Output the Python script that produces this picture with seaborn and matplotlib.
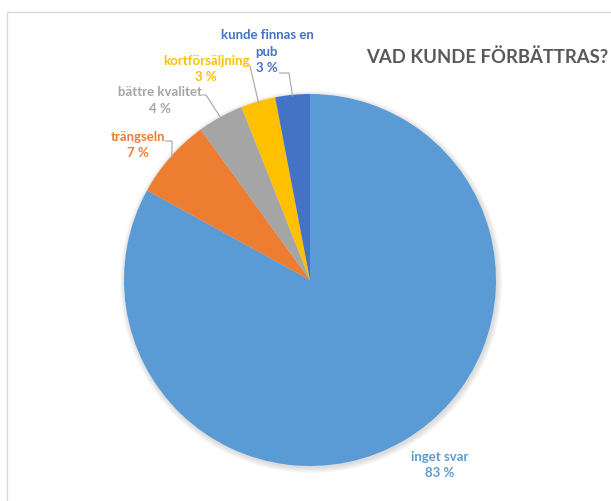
import numpy as np
import matplotlib
matplotlib.use("Agg")
import matplotlib.pyplot as plt
from matplotlib.patches import Rectangle, Circle
import seaborn as sns

# Survey answers: what could be improved
categories = ["inget svar", "trängseln", "bättre kvalitet", "kortförsäljning", "kunde finnas en\npub"]
shares = [83, 7, 4, 3, 3]
colors = ["#5B9BD5", "#ED7D31", "#A5A5A5", "#FFC000", "#4472C4"]
title = "VAD KUNDE FÖRBÄTTRAS?"

sns.set_theme(style="white")
plt.rcParams["font.family"] = ["Lato", "DejaVu Sans"]

W, H = 611, 501
fig = plt.figure(figsize=(W / 100, H / 100), dpi=100)
fig.patch.set_facecolor("white")
ax = fig.add_axes([0, 0, 1, 1])

# pie centre and radius in figure pixels
CX, CY, R = 310, 280, 186
LINE_H = 16.5  # label line height in pixels


def px(x, y):
    """Figure pixel position (from top-left) -> data coordinates."""
    return ((x - CX) / R, (CY - y) / R)


# soft drop shadow under the pie
for k in range(8):
    ax.add_patch(Circle((0.006, -0.010), 1.0 + 0.004 * k, color="#7f7f7f",
                        alpha=0.035, lw=0, zorder=0))

wedges, _ = ax.pie(shares, colors=colors, startangle=90, counterclock=False,
                   radius=1, center=(0, 0), wedgeprops=dict(linewidth=0))
for w in wedges:
    w.set_zorder(2)

ax.set_xlim(-CX / R, (W - CX) / R)
ax.set_ylim(-(H - CY) / R, CY / R)
ax.set_aspect("auto")
ax.axis("off")

# label centres (pixels) and leader-line start / elbow points
label_pos = [(440, 465), (138, 145), (160, 100.5), (206, 69), (267, 52)]
leaders = [None,
           [(165, 141), (172, 141)],
           [(202, 95), (206, 95)],
           [(249, 66), (250, 66)],
           [(279, 73), (289, 73)]]

for w, cat, val, col, pos, lead in zip(wedges, categories, shares, colors, label_pos, leaders):
    lines = cat.split("\n") + [f"{val} %"]
    n = len(lines)
    for i, line in enumerate(lines):
        ly = pos[1] + (i - (n - 1) / 2) * LINE_H
        x, y = px(pos[0], ly)
        ax.text(x, y, line, color=col, fontsize=9.5, fontweight="bold",
                ha="center", va="center", zorder=5)
    if lead is not None:
        mid = np.deg2rad((w.theta1 + w.theta2) / 2)
        end = (0.99 * np.cos(mid), 0.99 * np.sin(mid))
        pts = [px(*p) for p in lead] + [end]
        xs, ys = zip(*pts)
        ax.plot(xs, ys, color="#A6A6A6", lw=0.8, zorder=3, solid_capstyle="butt")

fig.text(608 / W, 1 - 57 / H, title, ha="right", va="center", fontsize=13.3,
         fontweight="bold", color="#595959")

# chart-area frame
fig.add_artist(Rectangle((7 / W, -0.1), 1.2, 1 - 12 / H + 0.1, transform=fig.transFigure,
                         fill=False, edgecolor="#D9D9D9", lw=1.0))

fig.savefig("out.png", dpi=100, facecolor="white")
